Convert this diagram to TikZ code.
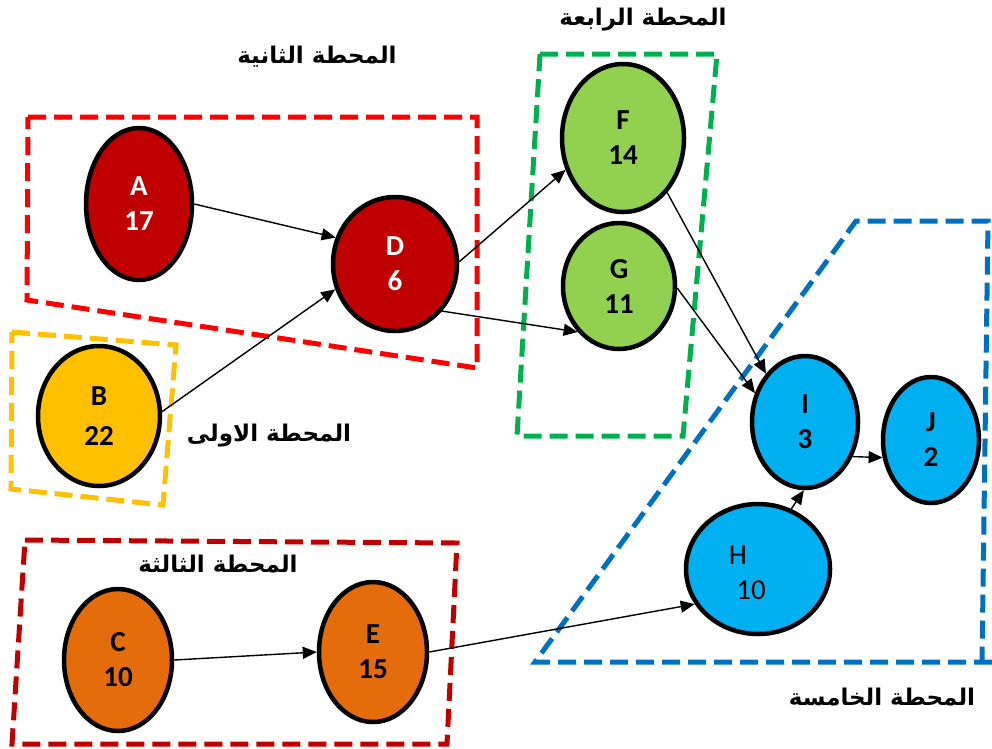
\documentclass[tikz,border=0pt]{standalone}
\usepackage{fontspec}
\setmainfont{Carlito}
\newfontfamily\arabicfont[Script=Arabic]{DejaVu Sans}
\TeXXeTstate=1
\usetikzlibrary{shapes.geometric,arrows.meta}

\definecolor{darkred}{RGB}{192,0,0}
\definecolor{brightred}{RGB}{255,0,0}
\definecolor{amber}{RGB}{255,192,0}
\definecolor{orangefill}{RGB}{228,108,10}
\definecolor{leaf}{RGB}{146,208,80}
\definecolor{leafline}{RGB}{0,176,80}
\definecolor{sky}{RGB}{0,176,240}
\definecolor{ocean}{RGB}{0,112,192}

\begin{document}
\begin{tikzpicture}[x=1pt,y=-1pt,
  stage/.style={ellipse, draw=black, line width=4.5pt, inner sep=0pt, align=center,
    font=\fontsize{29}{35}\selectfont\bfseries},
  link/.style={line width=1.4pt, -{Triangle[length=14pt,width=12pt]}},
  zone/.style={line width=5pt, dash pattern=on 18pt off 8pt},
  title/.style={font=\arabicfont\bfseries\fontsize{23}{27}\selectfont}
]
\useasboundingbox[fill=white] (0,0) rectangle (992,748);

% dashed outlines of the five stations
\draw[zone, brightred] (28,117) -- (477,117) -- (477,368) -- (27,300) -- cycle;
\draw[zone, amber] (12,332) -- (176,345) -- (163,505) -- (11,489) -- cycle;
\draw[zone, darkred] (25,540) -- (457,543) -- (447,744) -- (12,744) -- cycle;
\draw[zone, leafline] (540,54) -- (717,54) -- (683,436) -- (517,436) -- cycle;
\draw[zone, ocean] (992,662) -- (535,662) -- (856,221) -- (988,221) -- (982,662);

% activities
\node[stage, fill=darkred, text=white, minimum width=106pt, minimum height=152pt] (A) at (139,204) {A\\17};
\node[stage, fill=darkred, text=white, minimum width=124pt, minimum height=134pt] (D) at (395,264) {D\\6};
\node[stage, fill=amber, minimum width=122pt, minimum height=140pt] (B) at (99,416) {B\\[5pt]22};
\node[stage, fill=orangefill, minimum width=108pt, minimum height=142pt] (C) at (118,660) {C\\10};
\node[stage, fill=orangefill, minimum width=108pt, minimum height=140pt] (E) at (373,652) {E\\15};
\node[stage, fill=leaf, minimum width=122pt, minimum height=148pt] (F) at (623,138) {F\\14};
\node[stage, fill=leaf, minimum width=112pt, minimum height=126pt] (G) at (619,286) {G\\11};
\node[stage, fill=sky, minimum width=106pt, minimum height=132pt] (I) at (805,422) {I\\3};
\node[stage, fill=sky, minimum width=96pt, minimum height=126pt] (J) at (931,440) {J\\2};
\node[stage, fill=sky, minimum width=144pt, minimum height=130pt] (H) at (758,569) {};
\node[font=\fontsize{29}{35}\selectfont] (Hname) at (738,555) {H};
\node[font=\fontsize{29}{35}\selectfont] (Hdur) at (751,590) {10};

% precedence links
\draw[link] (A.east) -- (D.156);
\draw[link] (B.4) -- (D.203);
\draw[link] (D.2) -- (F.209);
\draw[link] (D.-45) -- (G.228);
\draw[link] (F.-51) -- (I.129);
\draw[link] (G.-2) -- (I.150);
\draw[link] (C.east) -- (E.west);
\draw[link] (E.east) -- (H.209);
\draw[link] (H.61) -- (I.269);
\draw[link] (I.-36) -- (J.200);

% station titles
\node[title] (t2) at (317,57) {\beginR المحطة الثانية\endR};
\node[title] (t4) at (643,20) {\beginR المحطة الرابعة\endR};
\node[title] (t1) at (269,436) {\beginR المحطة الاولى\endR};
\node[title] (t3) at (218,564) {\beginR المحطة الثالثة\endR};
\node[title] (t5) at (882,697) {\beginR المحطة الخامسة\endR};
\end{tikzpicture}
\end{document}
